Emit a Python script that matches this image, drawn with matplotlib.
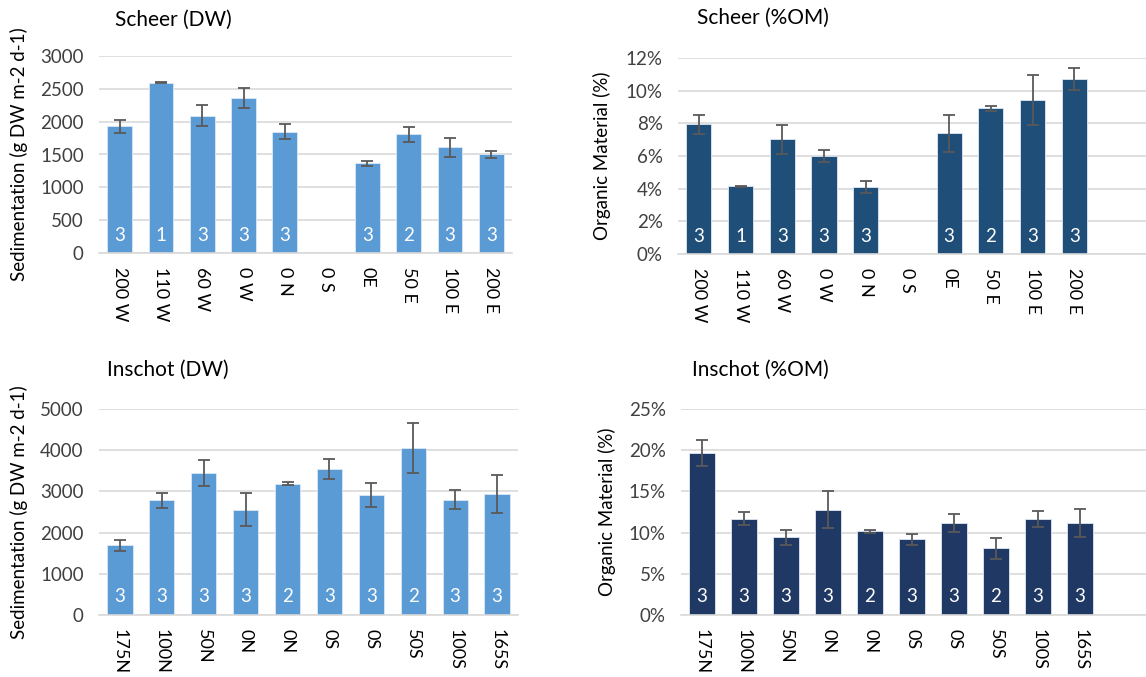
import numpy as np
import matplotlib
matplotlib.use('agg')
import matplotlib.pyplot as plt
from matplotlib.ticker import FuncFormatter
import matplotlib.transforms as mtransforms

plt.rcParams['font.family'] = ['Lato', 'DejaVu Sans']

# Scheer transect
scheer_sites = ['200 W', '110 W', '60 W', '0 W', '0 N', '0 S', '0E', '50 E', '100 E', '200 E']
scheer_dw = [1930, 2595, 2090, 2365, 1850, np.nan, 1365, 1805, 1610, 1500]
scheer_dw_err = [95, 5, 163, 153, 107, np.nan, 40, 117, 143, 56]
scheer_om = [7.93, 4.15, 7.02, 6.0, 4.1, np.nan, 7.38, 8.91, 9.4, 10.72]
scheer_om_err = [0.58, 0.03, 0.89, 0.36, 0.37, np.nan, 1.13, 0.14, 1.53, 0.65]
scheer_n = [3, 1, 3, 3, 3, None, 3, 2, 3, 3]

# Inschot transect
inschot_sites = ['175N', '100N', '50N', '0N', '0N', '0S', '0S', '50S', '100S', '165S']
inschot_dw = [1690, 2780, 3450, 2560, 3185, 3540, 2910, 4055, 2800, 2945]
inschot_dw_err = [140, 190, 323, 404, 40, 246, 295, 614, 234, 460]
inschot_om = [19.65, 11.7, 9.42, 12.8, 10.15, 9.2, 11.2, 8.1, 11.7, 11.2]
inschot_om_err = [1.57, 0.8, 0.95, 2.2, 0.16, 0.67, 1.1, 1.27, 0.97, 1.71]
inschot_n = [3, 3, 3, 3, 2, 3, 3, 2, 3, 3]

W, H = 1146, 677
fig = plt.figure(figsize=(W / 100, H / 100), dpi=100)


def px_axes(left, top, right, bottom):
    return fig.add_axes([left / W, 1 - bottom / H, (right - left) / W, (bottom - top) / H])


def bar_panel(ax, sites, vals, errs, counts, color, ymax, ystep, xmax, ylabel, pct=False):
    x = np.arange(len(sites))
    ax.bar(x, vals, width=0.6, color=color, edgecolor='#DDE8F4', linewidth=0.6, zorder=2)
    ax.errorbar(x, vals, yerr=errs, fmt='none', ecolor='#595959', elinewidth=1.3,
                capsize=4.5, capthick=1.3, zorder=3)
    trans = mtransforms.blended_transform_factory(ax.transData, ax.transAxes)
    for xi, n in zip(x, counts):
        if n is not None:
            ax.text(xi, 0.09, str(n), transform=trans, ha='center', va='center',
                    color='white', fontsize=13.5, zorder=4)
    ax.set_xlim(-0.5, xmax)
    ax.set_ylim(0, ymax)
    ax.set_yticks(np.arange(0, ymax + ystep / 2, ystep))
    if pct:
        ax.yaxis.set_major_formatter(FuncFormatter(lambda v, p: '{:.0f}%'.format(v)))
    ax.set_xticks(x)
    ax.set_xticklabels(sites, rotation=-90, fontsize=13, color='black')
    ax.tick_params(axis='x', length=0, pad=10)
    ax.tick_params(axis='y', length=0, labelsize=13.5, labelcolor='#404040', pad=11)
    ax.grid(axis='y', color='#D9D9D9', linewidth=1.2, zorder=0)
    ax.set_axisbelow(True)
    for s in ['top', 'right', 'left']:
        ax.spines[s].set_visible(False)
    ax.spines['bottom'].set_color('#D9D9D9')
    ax.spines['bottom'].set_linewidth(1.2)
    ax.set_ylabel(ylabel, fontsize=13.5, color='black')


ax1 = px_axes(99, 56, 512, 253)
bar_panel(ax1, scheer_sites, scheer_dw, scheer_dw_err, scheer_n, '#5B9BD5',
          3000, 500, 9.5, 'Sedimentation (g DW m-2 d-1)')
ax1.yaxis.set_label_coords(-0.172, 0.5)

ax2 = px_axes(678, 58, 1146, 254)
bar_panel(ax2, scheer_sites, scheer_om, scheer_om_err, scheer_n, '#1F4E79',
          12, 2, 10.72, 'Organic Material (%)', pct=True)
ax2.yaxis.set_label_coords(-0.143, 0.5)

ax3 = px_axes(99, 409, 518, 615)
bar_panel(ax3, inschot_sites, inschot_dw, inschot_dw_err, inschot_n, '#5B9BD5',
          5000, 1000, 9.5, 'Sedimentation (g DW m-2 d-1)')
ax3.yaxis.set_label_coords(-0.169, 0.5)

ax4 = px_axes(681, 409, 1146, 615)
bar_panel(ax4, inschot_sites, inschot_om, inschot_om_err, inschot_n, '#203864',
          25, 5, 10.57, 'Organic Material (%)', pct=True)
ax4.yaxis.set_label_coords(-0.140, 0.5)

titles = [('Scheer (DW)', 115, 20), ('Scheer (%OM)', 697, 18),
          ('Inschot (DW)', 107, 370), ('Inschot (%OM)', 692, 370)]
for txt, tx, ty in titles:
    fig.text(tx / W, 1 - ty / H, txt, ha='left', va='center', fontsize=15, color='black')

fig.savefig('out.png', dpi=100)
